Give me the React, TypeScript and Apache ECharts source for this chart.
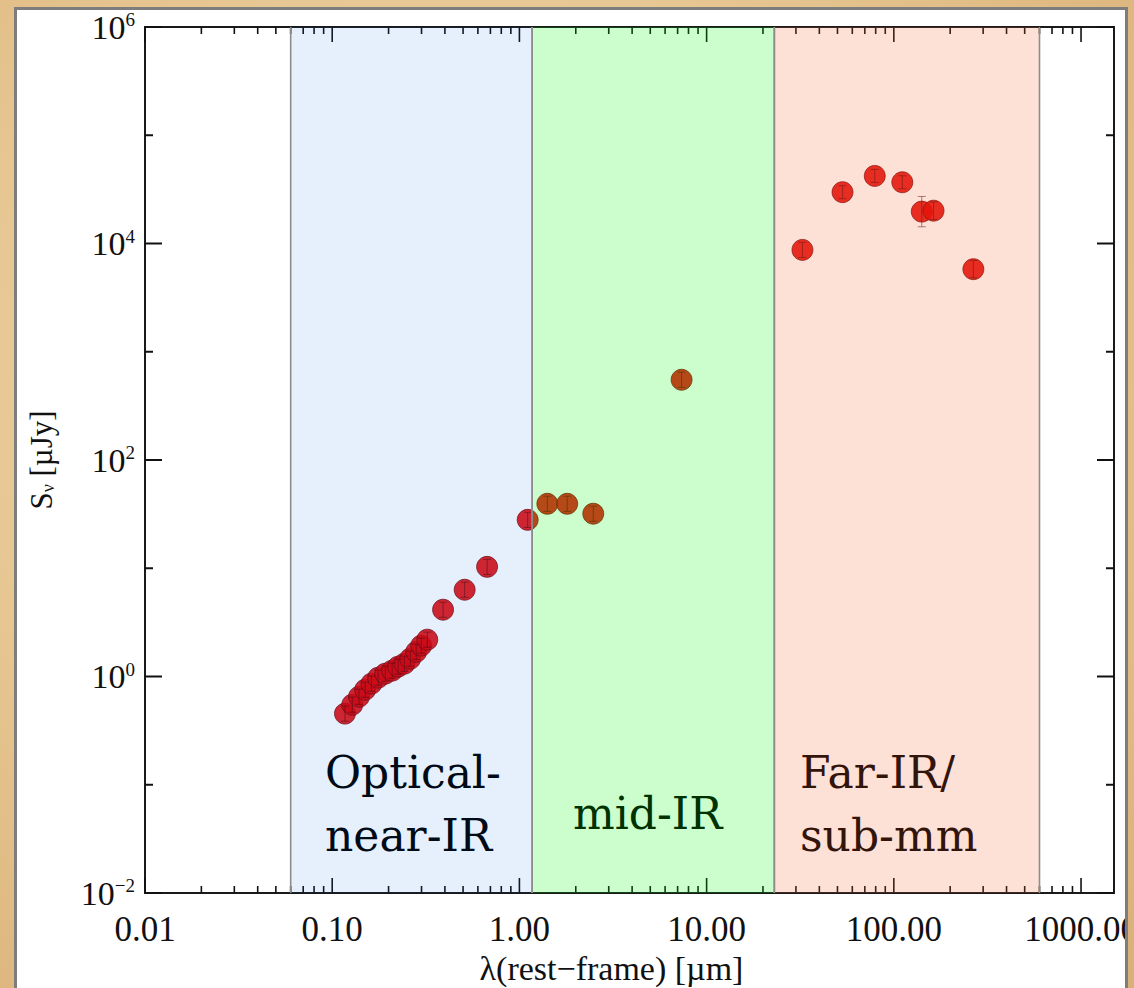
import React, { useEffect, useRef } from 'react';
import * as echarts from 'echarts';

// ---- data ----
const lambda = [
  0.117, 0.128, 0.139, 0.150, 0.162, 0.176, 0.192, 0.209, 0.225, 0.243, 0.261, 0.281, 0.299, 0.322,
  0.391, 0.510, 0.672, 1.107, 1.41, 1.80, 2.48, 7.35,
  32.5, 53.2, 79.1, 111, 141, 163, 266,
];
const flux = [
  0.454, 0.549, 0.650, 0.755, 0.859, 0.975, 1.062, 1.132, 1.233, 1.313, 1.46, 1.69, 1.93, 2.19,
  4.14, 6.33, 10.3, 28.0, 39.4, 39.4, 31.9, 551,
  8730, 29800, 42100, 36800, 19700, 20100, 5790,
];
// symmetric error in dex
const errDex = [
  0.07, 0.07, 0.07, 0.07, 0.07, 0.07, 0.07, 0.07, 0.07, 0.07, 0.07, 0.07, 0.07, 0.07,
  0.07, 0.07, 0.07, 0.07, 0.07, 0.07, 0.07, 0.07,
  0.07, 0.06, 0.06, 0.06, 0.14, 0.08, 0.08,
];

const bandStart = [0.06, 1.17, 23.0];
const bandEnd = [1.17, 23.0, 600];
const bandFill = ['rgba(5,105,225,0.10)', 'rgba(0,245,0,0.20)', 'rgba(245,100,50,0.20)'];
const bandLabels = ['Optical-\nnear-IR', 'mid-IR', 'Far-IR/\nsub-mm'];

const xDecades = [0.01, 0.1, 1, 10, 100, 1000];
const yDecades = [1e-2, 1e-1, 1, 10, 100, 1e3, 1e4, 1e5, 1e6];
const minorSteps = [2, 3, 4, 5, 6, 7, 8, 9];

const X_MIN = 0.01;
const X_MAX = 1500;
const Y_MIN = 0.01;
const Y_MAX = 1e6;

const SERIF = 'Liberation Serif, serif';
const LABEL_FAMILY = 'DejaVu Serif, Liberation Serif, serif';

function isPow10(v: number) {
  const e = Math.log10(v);
  return Math.abs(e - Math.round(e)) < 1e-6;
}

export default function App() {
  const ref = useRef<HTMLDivElement>(null);

  useEffect(() => {
    if (!ref.current) return;
    const chart = echarts.init(ref.current, undefined, { renderer: 'svg' });

    // tick data: [x, y, axis(0=x,1=y), major]
    const tickData: number[][] = [];
    xDecades.forEach((d) => {
      tickData.push([d, 1, 0, 1]);
      minorSteps.forEach((m) => {
        const v = d * m;
        if (v < X_MAX) tickData.push([v, 1, 0, 0]);
      });
    });
    yDecades.forEach((d) => {
      const e = Math.round(Math.log10(d));
      tickData.push([1, d, 1, e % 2 === 0 ? 1 : 0]);
    });

    const points = lambda.map((l, i) => [l, flux[i]]);
    const errData = lambda.map((l, i) => [l, flux[i], errDex[i]]);
    const bandData = bandStart.map((s, i) => [s, bandEnd[i], i]);

    const labelStyle = (text: string) => ({
      text,
      fontFamily: LABEL_FAMILY,
      fontSize: 44,
      fill: '#000',
      lineHeight: 63,
      align: 'left',
      verticalAlign: 'middle',
    });

    const option: any = {
      animation: false,
      grid: {
        left: 128,
        top: 17,
        right: 11,
        bottom: 95,
        outerBoundsMode: 'none',
        containLabel: false,
        show: true,
        backgroundColor: '#ffffff',
        borderColor: '#1a1a1a',
        borderWidth: 2,
      },
      xAxis: {
        type: 'log',
        logBase: 10,
        min: X_MIN,
        max: X_MAX,
        splitNumber: 6,
        axisLine: { show: false },
        axisTick: { show: false },
        splitLine: { show: false },
        axisLabel: {
          margin: 19,
          color: '#111',
          fontFamily: SERIF,
          fontSize: 35,
          hideOverlap: false,
          formatter: (v: number) => (isPow10(v) && v <= 1000.0001 ? v.toFixed(2) : ''),
        },
        name: 'λ(rest−frame) [µm]',
        nameLocation: 'middle',
        nameGap: 56,
        nameTextStyle: { color: '#111', fontFamily: SERIF, fontSize: 34, padding: [0, 36, 0, 0] },
      },
      yAxis: {
        type: 'log',
        logBase: 10,
        min: Y_MIN,
        max: Y_MAX,
        axisLine: { show: false },
        axisTick: { show: false },
        splitLine: { show: false },
        axisLabel: {
          margin: 10,
          formatter: (v: number) => {
            if (!isPow10(v)) return '';
            const e = Math.round(Math.log10(v));
            if (e % 2 !== 0) return '';
            const es = e < 0 ? '−' + Math.abs(e) : String(e);
            return '{b|10}{s|' + es + '}';
          },
          rich: {
            b: { fontFamily: SERIF, fontSize: 34, color: '#111', lineHeight: 34, verticalAlign: 'middle' },
            s: { fontFamily: SERIF, fontSize: 19, color: '#111', lineHeight: 16, verticalAlign: 'top' },
          },
        },
        name: '{a|S}{v|ν}{a| [µJy]}',
        nameLocation: 'middle',
        nameGap: 88,
        nameRotate: 90,
        nameTextStyle: {
          rich: {
            a: { fontFamily: SERIF, fontSize: 31, color: '#111', lineHeight: 31, verticalAlign: 'middle' },
            v: { fontFamily: SERIF, fontSize: 18, color: '#111', lineHeight: 14, verticalAlign: 'bottom' },
          },
        },
      },
      graphic: [
        { type: 'text', x: 308, y: 794, z: 5, style: labelStyle(bandLabels[0]) },
        { type: 'text', x: 556, y: 803, z: 5, style: labelStyle(bandLabels[1]) },
        { type: 'text', x: 783, y: 794, z: 5, style: labelStyle(bandLabels[2]) },
      ],
      series: [
        {
          type: 'custom',
          name: 'ticks',
          z: 3,
          silent: true,
          data: tickData,
          renderItem: (params: any, api: any) => {
            const cs = params.coordSys;
            const axis = api.value(2);
            const major = api.value(3);
            const style = { stroke: '#111', lineWidth: axis === 0 ? 1.6 : 2 };
            if (axis === 0) {
              const px = api.coord([api.value(0), 1])[0];
              const len = major ? 15 : 7;
              const yb = cs.y + cs.height;
              return {
                type: 'group',
                children: [
                  { type: 'line', shape: { x1: px, y1: yb, x2: px, y2: yb - len }, style },
                  { type: 'line', shape: { x1: px, y1: cs.y, x2: px, y2: cs.y + len }, style },
                ],
              };
            }
            const py = api.coord([1, api.value(1)])[1];
            const len = major ? 17 : 8;
            const xr = cs.x + cs.width;
            return {
              type: 'group',
              children: [
                { type: 'line', shape: { x1: cs.x, y1: py, x2: cs.x + len, y2: py }, style },
                { type: 'line', shape: { x1: xr, y1: py, x2: xr - len, y2: py }, style },
              ],
            };
          },
        },
        {
          type: 'scatter',
          name: 'SED',
          z: 4,
          data: points,
          symbol: 'circle',
          symbolSize: 21,
          itemStyle: {
            color: 'rgb(224,0,0)',
            opacity: 0.88,
            borderColor: 'rgba(110,0,0,0.8)',
            borderWidth: 1,
          },
        },
        {
          type: 'custom',
          name: 'errors',
          z: 5,
          silent: true,
          data: errData,
          renderItem: (params: any, api: any) => {
            const x = api.value(0);
            const y = api.value(1);
            const e = api.value(2);
            const f = Math.pow(10, e);
            const lo = api.coord([x, y / f]);
            const hi = api.coord([x, y * f]);
            const style = { stroke: 'rgba(70,0,0,0.5)', lineWidth: 1 };
            return {
              type: 'group',
              children: [
                { type: 'line', shape: { x1: lo[0], y1: lo[1], x2: hi[0], y2: hi[1] }, style },
                { type: 'line', shape: { x1: lo[0] - 4, y1: lo[1], x2: lo[0] + 4, y2: lo[1] }, style },
                { type: 'line', shape: { x1: hi[0] - 4, y1: hi[1], x2: hi[0] + 4, y2: hi[1] }, style },
              ],
            };
          },
        },
        {
          type: 'custom',
          name: 'bands',
          z: 10,
          silent: true,
          data: bandData,
          renderItem: (params: any, api: any) => {
            const idx = api.value(2);
            const p0 = api.coord([api.value(0), Y_MAX]);
            const p1 = api.coord([api.value(1), Y_MIN]);
            const edge = { stroke: '#8c8c8c', lineWidth: 1.6 };
            return {
              type: 'group',
              children: [
                {
                  type: 'rect',
                  shape: { x: p0[0], y: p0[1], width: p1[0] - p0[0], height: p1[1] - p0[1] },
                  style: { fill: bandFill[idx] },
                },
                { type: 'line', shape: { x1: p0[0], y1: p0[1], x2: p0[0], y2: p1[1] }, style: edge },
                { type: 'line', shape: { x1: p1[0], y1: p0[1], x2: p1[0], y2: p1[1] }, style: edge },
              ],
            };
          },
        },
      ],
    };

    chart.setOption(option);
    return () => chart.dispose();
  }, []);

  return (
    <div
      style={{
        position: 'fixed',
        left: 0,
        top: 0,
        width: 1134,
        height: 988,
        overflow: 'hidden',
        background:
          'radial-gradient(ellipse at 40% 40%, #f1dbb0 0%, #e6c590 55%, #d9b077 100%)',
      }}
    >
      <div
        style={{
          position: 'absolute',
          left: 14,
          top: 7,
          width: 1114,
          height: 1000,
          boxSizing: 'border-box',
          border: '3px solid #7d7d7d',
          borderBottom: 'none',
          background: '#ffffff',
          overflow: 'hidden',
        }}
      >
        <div ref={ref} style={{ position: 'absolute', left: 0, top: 0, width: 1108, height: 978 }} />
      </div>
    </div>
  );
}
